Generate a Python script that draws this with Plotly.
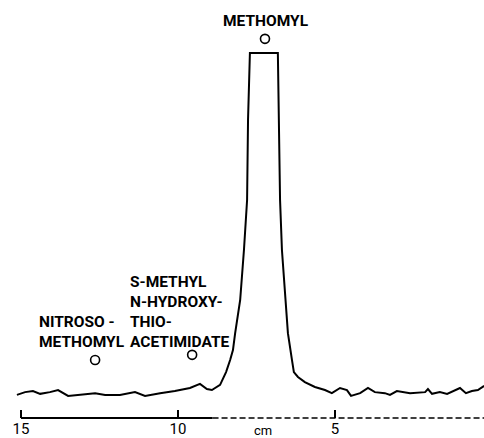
import plotly.graph_objects as go

# Chromatogram trace (distance in cm, relative signal)
distance_cm = [15.13, 14.87, 14.62, 14.39, 14.08, 13.82, 13.50, 13.12, 12.87, 12.64,
               12.32, 11.85, 11.37, 11.05, 10.57, 10.10, 9.62, 9.30, 9.08, 8.92,
               8.66, 8.47, 8.34, 8.25, 8.18, 8.02, 7.90, 7.80, 7.77, 7.71,
               6.82, 6.78, 6.75, 6.69, 6.59, 6.50, 6.37, 6.31, 6.18, 5.96,
               5.64, 5.32, 5.10, 4.84, 4.62, 4.49, 4.20, 3.95, 3.73, 3.41,
               3.25, 3.03, 2.61, 2.13, 2.04, 1.91, 1.66, 1.43, 1.02, 0.83,
               0.64, 0.45, 0.25]
signal = [0.9, 1.7, 2.0, 1.2, 1.7, 2.3, 0.6, 0.9, 1.2, 1.4,
          0.9, 0.9, 1.7, 0.6, 1.4, 2.0, 2.9, 4.1, 2.6, 2.3,
          3.8, 7.5, 11.0, 13.9, 18.8, 28.4, 42.9, 57.4, 80.6, 100.0,
          100.0, 80.6, 57.4, 42.9, 28.4, 18.8, 11.0, 7.5, 6.1, 4.6,
          3.2, 2.3, 1.4, 2.9, 2.3, 0.6, 1.4, 2.9, 1.7, 1.4,
          0.9, 2.0, 1.4, 1.7, 2.6, 1.2, 1.7, 1.2, 2.9, 1.4,
          2.0, 2.3, 3.5]

# Compound markers (open circles)
marker_names = ["METHOMYL", "NITROSO-METHOMYL", "S-METHYL N-HYDROXYTHIOACETIMIDATE"]
marker_x = [7.23, 12.64, 9.55]
marker_y = [104.1, 11.0, 12.5]

# Tick labels
tick_vals = [15, 10, 5]
tick_text = ["15", "10", "5"]
axis_title = "cm"

FONT = "Roboto, Lato, sans-serif"

fig = go.Figure()
fig.add_trace(go.Scatter(x=distance_cm, y=signal, mode="lines",
                         line=dict(color="black", width=2), hoverinfo="skip"))
fig.add_trace(go.Scatter(x=marker_x, y=marker_y, mode="markers",
                         marker=dict(symbol="circle-open", size=9, color="black",
                                     line=dict(width=1.6, color="black")),
                         hovertext=marker_names, hoverinfo="text"))

# axis baseline
fig.add_shape(type="line", x0=15, x1=8.9, y0=0, y1=0, xref="x", yref="paper",
              line=dict(color="black", width=2))
fig.add_shape(type="line", x0=8.9, x1=0.255, y0=0, y1=0, xref="x", yref="paper",
              line=dict(color="black", width=1.5, dash="6px,3px"))

ann_font = dict(family=FONT, size=15.5, color="black", weight="bold")
fig.add_annotation(x=7.20, y=109.3, text="METHOMYL", showarrow=False,
                   xanchor="center", yanchor="middle", font=ann_font)
fig.add_annotation(x=14.49, y=19.1, text="NITROSO -<br>METHOMYL", showarrow=False,
                   xanchor="left", yanchor="middle", align="left", font=ann_font)
fig.add_annotation(x=11.59, y=24.8, text="S-METHYL<br>N-HYDROXY-<br>THIO-<br>ACETIMIDATE",
                   showarrow=False, xanchor="left", yanchor="middle", align="left",
                   font=ann_font)
fig.add_annotation(x=7.29, y=0, yref="paper", text=axis_title, showarrow=False,
                   xanchor="center", yanchor="top", yshift=-3,
                   font=dict(family=FONT, size=13, color="black"))

fig.update_layout(
    width=484, height=438,
    margin=dict(l=0, r=0, t=0, b=20),
    paper_bgcolor="white", plot_bgcolor="white",
    showlegend=False,
    xaxis=dict(range=[15.669, 0.255], showgrid=False, zeroline=False, showline=False,
               tickmode="array", tickvals=tick_vals, ticktext=tick_text,
               ticks="inside", ticklen=8, tickwidth=1.5, tickcolor="black",
               tickfont=dict(family=FONT, size=15, color="black")),
    yaxis=dict(range=[-5.8, 115.36], visible=False),
)

fig.write_html("out.html", config={"displayModeBar": False},
               post_script="document.body.style.margin='0';document.body.style.padding='0';")
